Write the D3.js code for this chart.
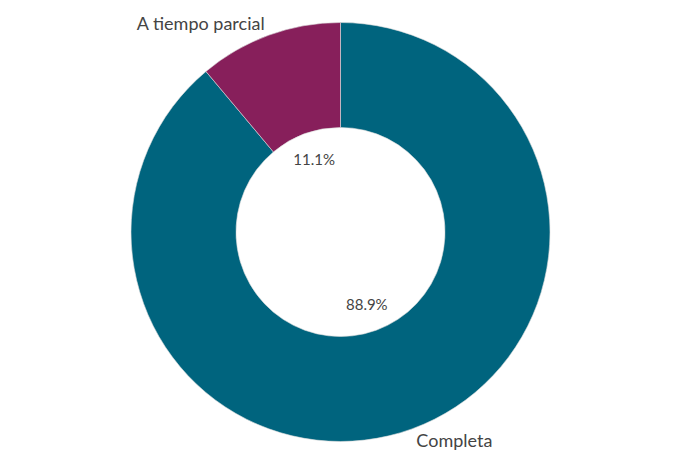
<!DOCTYPE html>
<html>
<head>
<meta charset="utf-8">
<script src="https://cdn.jsdelivr.net/npm/d3@7"></script>
<style>
  html, body { margin: 0; padding: 0; background: #fff; }
  svg text { font-family: "Source Sans Pro", Lato, "Noto Sans", sans-serif; fill: #444; }
</style>
</head>
<body>
<svg id="chart" width="675" height="461"></svg>
<script>
const categories = ["Completa", "A tiempo parcial"];
const values = [88.9, 11.1];
const valueLabels = ["88.9%", "11.1%"];
const colors = ["#00647E", "#871F5B"];

const width = 675, height = 461;
const cx = 340.5, cy = 232;
const outerR = 209.5, innerR = 104.5;

const svg = d3.select("#chart");
const g = svg.append("g").attr("transform", `translate(${cx},${cy})`);

const data = categories.map((c, i) => ({ cat: c, value: values[i], label: valueLabels[i], color: colors[i] }));

const pie = d3.pie().value(d => d.value).sort(null);
const arcs = pie(data);
const arc = d3.arc().innerRadius(innerR).outerRadius(outerR);

g.selectAll("path.slice").data(arcs).join("path")
  .attr("class", "slice")
  .attr("d", arc)
  .attr("fill", d => d.data.color)
  .attr("stroke", "#ddd")
  .attr("stroke-width", 0.6);

const labelArc = d3.arc().innerRadius(77).outerRadius(77);
g.selectAll("text.pct").data(arcs).join("text")
  .attr("class", "pct")
  .attr("transform", d => `translate(${labelArc.centroid(d)})`)
  .attr("text-anchor", "middle")
  .attr("dy", "0.35em")
  .style("font-size", "15px")
  .text(d => d.data.label);

const outerLabelR = 222;
g.selectAll("text.cat").data(arcs).join("text")
  .attr("class", "cat")
  .attr("x", d => { const a = (d.startAngle + d.endAngle) / 2; return Math.sin(a) * outerLabelR; })
  .attr("y", d => { const a = (d.startAngle + d.endAngle) / 2; return -Math.cos(a) * outerLabelR; })
  .attr("text-anchor", d => ((d.startAngle + d.endAngle) / 2) > Math.PI ? "end" : "start")
  .attr("dy", "0.35em")
  .style("font-size", "18px")
  .text(d => d.data.cat);
</script>
</body>
</html>
